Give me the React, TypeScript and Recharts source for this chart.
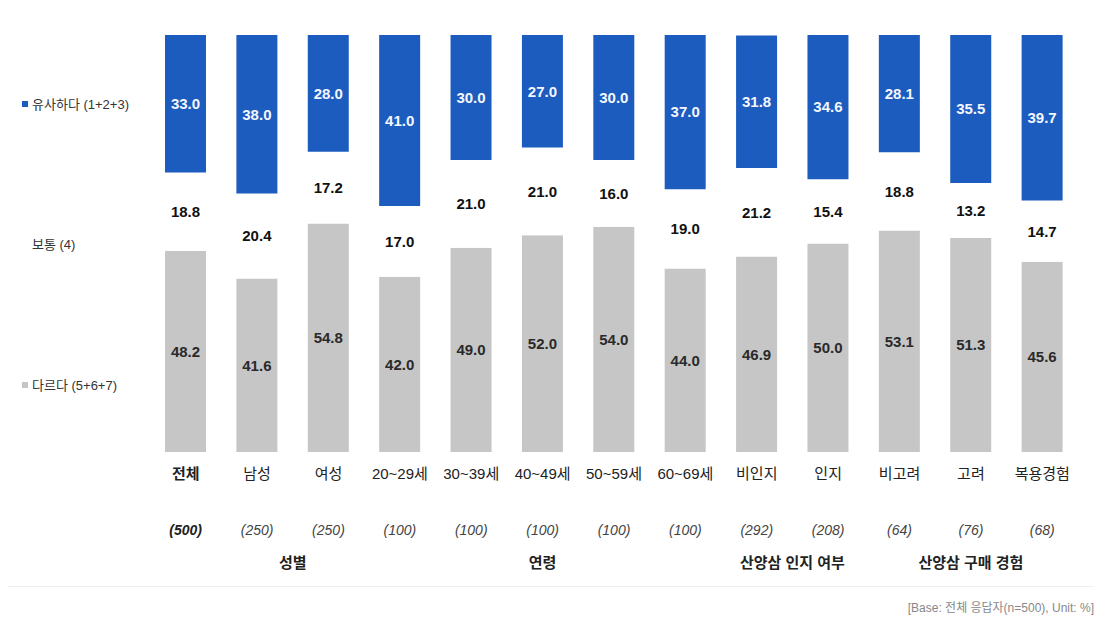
import React from "react";
import { BarChart, Bar, XAxis, YAxis, LabelList } from "recharts";

const categories = ["전체", "남성", "여성", "20~29세", "30~39세", "40~49세", "50~59세", "60~69세", "비인지", "인지", "비고려", "고려", "복용경험"];
const sampleSizes = ["(500)", "(250)", "(250)", "(100)", "(100)", "(100)", "(100)", "(100)", "(292)", "(208)", "(64)", "(76)", "(68)"];
const similar = [33.0, 38.0, 28.0, 41.0, 30.0, 27.0, 30.0, 37.0, 31.8, 34.6, 28.1, 35.5, 39.7];
const neutral = [18.8, 20.4, 17.2, 17.0, 21.0, 21.0, 16.0, 19.0, 21.2, 15.4, 18.8, 13.2, 14.7];
const different = [48.2, 41.6, 54.8, 42.0, 49.0, 52.0, 54.0, 44.0, 46.9, 50.0, 53.1, 51.3, 45.6];
const groups = [
  { label: "성별", start: 1, end: 2 },
  { label: "연령", start: 3, end: 7 },
  { label: "산양삼 인지 여부", start: 8, end: 9 },
  { label: "산양삼 구매 경험", start: 10, end: 12 },
];
const seriesNames = { similar: "유사하다 (1+2+3)", neutral: "보통 (4)", different: "다르다 (5+6+7)" };
const footnote = "[Base: 전체 응답자(n=500), Unit: %]";

const data = categories.map((c, i) => ({
  name: c,
  n: sampleSizes[i],
  similar: similar[i],
  neutral: neutral[i],
  different: different[i],
}));

const W = 1102;
const H = 623;
const M = { top: 35, right: 24, left: 150, bottom: 51 };
const XAXIS_H = 120;
const BLUE = "#1c5cbf";
const GRAY = "#c6c6c6";
const FONT = "'Liberation Sans Narrow', 'Arial Narrow', 'Liberation Sans', 'Noto Sans CJK KR', sans-serif";
const band = (W - M.left - M.right) / categories.length;

const fmt = (v: any) => Number(v).toFixed(1);

const Tick = (props: any) => {
  const { x, y, payload, index } = props;
  const first = index === 0;
  return (
    <g>
      <text x={x} y={y + 23} textAnchor="middle" dominantBaseline="middle" fontSize={15} fontFamily={FONT} fontWeight={first ? "bold" : "normal"} fill="#222">
        {payload.value}
      </text>
      <text x={x} y={y + 79} textAnchor="middle" dominantBaseline="middle" fontSize={14} fontStyle="italic" fontFamily={FONT} fontWeight={first ? "bold" : "normal"} fill={first ? "#222" : "#444"}>
        {sampleSizes[index]}
      </text>
    </g>
  );
};

export default function App() {
  return (
    <div style={{ position: "relative", width: W, height: H, margin: -8, background: "#fff", fontFamily: FONT }}>
      <BarChart width={W} height={H} data={data} margin={M} barSize={41}>
        <XAxis dataKey="name" height={XAXIS_H} axisLine={false} tickLine={false} tickSize={0} tickMargin={0} interval={0} tick={<Tick />} />
        <YAxis hide domain={[0, 100]} />
        <Bar dataKey="different" stackId="a" fill={GRAY} isAnimationActive={false}>
          <LabelList dataKey="different" position="center" formatter={fmt} fill="#2a2a2a" fontSize={15} fontWeight="bold" fontFamily={FONT} />
        </Bar>
        <Bar dataKey="neutral" stackId="a" fill="#ffffff" isAnimationActive={false}>
          <LabelList dataKey="neutral" position="center" formatter={fmt} fill="#111" fontSize={15} fontWeight="bold" fontFamily={FONT} />
        </Bar>
        <Bar dataKey="similar" stackId="a" fill={BLUE} isAnimationActive={false}>
          <LabelList dataKey="similar" position="center" formatter={fmt} fill="#f4f7ff" fontSize={15} fontWeight="bold" fontFamily={FONT} />
        </Bar>
      </BarChart>

      {/* legend */}
      <div style={{ position: "absolute", left: 22, top: 94, fontSize: 13, color: "#333", display: "flex", alignItems: "center", whiteSpace: "nowrap" }}>
        <span style={{ display: "inline-block", width: 6, height: 6, background: BLUE, marginRight: 4 }} />
        {seriesNames.similar}
      </div>
      <div style={{ position: "absolute", left: 32, top: 234, fontSize: 13, color: "#333", whiteSpace: "nowrap" }}>
        {seriesNames.neutral}
      </div>
      <div style={{ position: "absolute", left: 22, top: 375, fontSize: 13, color: "#333", display: "flex", alignItems: "center", whiteSpace: "nowrap" }}>
        <span style={{ display: "inline-block", width: 6, height: 6, background: GRAY, marginRight: 4 }} />
        {seriesNames.different}
      </div>

      {/* group labels */}
      {groups.map((g) => (
        <div
          key={g.label}
          style={{
            position: "absolute",
            left: M.left + ((g.start + g.end + 1) / 2) * band - 100,
            width: 200,
            top: 551,
            textAlign: "center",
            fontSize: 15,
            fontWeight: "bold",
            color: "#222",
          }}
        >
          {g.label}
        </div>
      ))}

      <div style={{ position: "absolute", left: 6, right: 4, top: 586, height: 1, background: "#efefef" }} />
      <div style={{ position: "absolute", right: 8, top: 598, fontSize: 12, color: "#888", whiteSpace: "nowrap" }}>{footnote}</div>
    </div>
  );
}
